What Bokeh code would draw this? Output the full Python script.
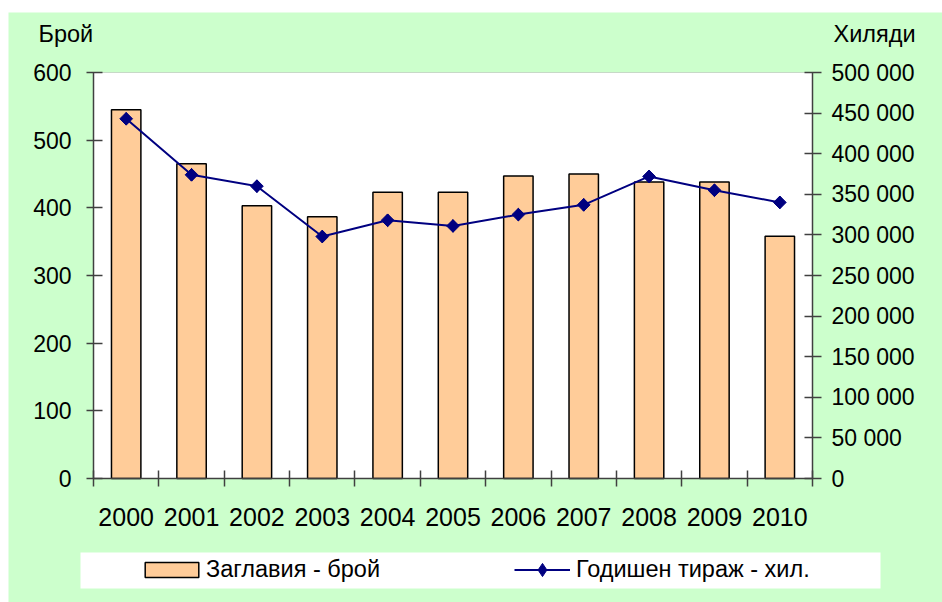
from bokeh.plotting import figure
from bokeh.models import (Range1d, LinearAxis, Legend, LegendItem, FixedTicker,
                          CustomJSTickFormatter, BoxAnnotation, Label)
from bokeh.embed import file_html
from bokeh.resources import INLINE

# ---- data ----
years = ["2000", "2001", "2002", "2003", "2004", "2005", "2006", "2007", "2008", "2009", "2010"]
titles_count = [545, 465, 403, 387, 423, 423, 447, 450, 438, 438, 358]
circulation = [443000, 374000, 360000, 298000, 318000, 311000, 325000, 337000, 372000, 355000, 340000]
left_ticks = [0, 100, 200, 300, 400, 500, 600]
right_ticks = [0, 50000, 100000, 150000, 200000, 250000, 300000, 350000, 400000, 450000, 500000]
bar_label = "Заглавия - брой"
line_label = "Годишен тираж - хил."
left_title = "Брой"
right_title = "Хиляди"

FONT = "Liberation Sans"
GREEN = "#CCFFCC"
AX = "#404040"
NAVY = "#000080"

# ---- layout (pixels, figure coordinates) ----
W, H = 934, 590
PL, PR, PT, PB = 85, 804, 60, 466          # plot-area edges inside the figure
Y_MAX_L, Y_MAX_R = 600, 500000

n = len(years)
xs = list(range(n))
boundaries = [i - 0.5 for i in range(n + 1)]
xu = (PR - PL) / n                            # px per category
x0 = -0.5 - PL / xu
x1 = n - 0.5 + (W - PR) / xu
yu = (PB - PT) / Y_MAX_L
y0 = -(H - PB) / yu
y1 = Y_MAX_L + PT / yu
k = Y_MAX_R / Y_MAX_L

p = figure(width=W, height=H, output_backend="svg", toolbar_location=None,
           x_range=Range1d(x0, x1), y_range=Range1d(y0, y1),
           min_border=0, min_border_left=0, min_border_right=0,
           min_border_top=0, min_border_bottom=0,
           background_fill_color=GREEN, border_fill_color=GREEN,
           outline_line_color=None)
p.margin = (12, 0, 0, 8)
p.extra_y_ranges = {"right": Range1d(y0 * k, y1 * k)}
p.grid.visible = False

# white plot area with grey border
p.add_layout(BoxAnnotation(left=-0.5, right=n - 0.5, bottom=0, top=Y_MAX_L,
                           fill_color="white", fill_alpha=1, line_color="#808080",
                           line_width=1, level="underlay"))

bars = p.vbar(x=xs, top=titles_count, width=0.45, fill_color="#FFCC99",
              line_color="black", line_width=1.5)
ln = p.line(x=xs, y=circulation, y_range_name="right", line_color=NAVY, line_width=2)
# diamond used for the legend (hidden under the rotated squares on the chart)
mk_d = p.scatter(x=xs, y=circulation, y_range_name="right", marker="diamond", size=12.5,
                 fill_color=NAVY, line_color=NAVY)
mk = p.scatter(x=xs, y=circulation, y_range_name="right", marker="square", angle=0.7853981634,
               size=9, fill_color=NAVY, line_color=NAVY)

# x axis
xa = p.xaxis[0]
xa.fixed_location = 0
xa.bounds = (-0.5, n - 0.5)
xa.ticker = FixedTicker(ticks=xs, minor_ticks=boundaries)
xa.major_label_overrides = {i: y for i, y in zip(xs, years)}
xa.major_tick_line_color = None
xa.major_tick_in = 0
xa.major_tick_out = 0
xa.minor_tick_in = 8
xa.minor_tick_out = 8
xa.minor_tick_line_color = AX
xa.minor_tick_line_width = 1.5
xa.axis_line_color = AX
xa.axis_line_width = 1.5
xa.major_label_text_font = FONT
xa.major_label_text_font_size = "25px"
xa.major_label_text_color = "black"
xa.major_label_standoff = 21

# left axis
ya = p.yaxis[0]
ya.fixed_location = -0.5
ya.bounds = (0, Y_MAX_L)
ya.ticker = FixedTicker(ticks=left_ticks)
ya.major_tick_in = 9
ya.major_tick_out = 7
ya.major_tick_line_color = AX
ya.major_tick_line_width = 1.5
ya.minor_tick_line_color = None
ya.axis_line_color = AX
ya.axis_line_width = 1.5
ya.major_label_text_font = FONT
ya.major_label_text_font_size = "23px"
ya.major_label_text_color = "black"
ya.major_label_standoff = 15

# right axis
ra = LinearAxis(y_range_name="right", ticker=FixedTicker(ticks=right_ticks),
                formatter=CustomJSTickFormatter(code='return tick.toFixed(0).replace(/\\B(?=(\\d{3})+(?!\\d))/g, " ");'))
ra.fixed_location = n - 0.5
ra.bounds = (0, Y_MAX_R)
ra.major_tick_in = 8
ra.major_tick_out = 9
ra.major_tick_line_color = AX
ra.major_tick_line_width = 1.5
ra.minor_tick_line_color = None
ra.axis_line_color = AX
ra.axis_line_width = 1.5
ra.major_label_text_font = FONT
ra.major_label_text_font_size = "23px"
ra.major_label_text_color = "black"
ra.major_label_standoff = 10
p.add_layout(ra, "right")

# axis titles (screen units measured from the frame's bottom-left)
p.add_layout(Label(x=30, y=H - 21, x_units="screen", y_units="screen", text=left_title,
                   text_font=FONT, text_font_size="23.5px", text_baseline="alphabetic",
                   text_color="black"))
p.add_layout(Label(x=825, y=H - 21, x_units="screen", y_units="screen", text=right_title,
                   text_font=FONT, text_font_size="23.5px", text_baseline="alphabetic",
                   text_color="black"))

# legend white box
p.add_layout(BoxAnnotation(left=72, right=872, bottom=14, top=50,
                           left_units="screen", right_units="screen",
                           bottom_units="screen", top_units="screen",
                           fill_color="white", fill_alpha=1, line_color=None, level="annotation"))

leg_style = dict(orientation="horizontal", padding=5, label_text_font=FONT,
                 label_text_font_size="23.5px", label_text_color="black",
                 background_fill_alpha=0, border_line_color=None, margin=0)
legend1 = Legend(items=[LegendItem(label=bar_label, renderers=[bars])],
                 location=(130, 19), glyph_width=67, glyph_height=19, label_standoff=1,
                 **leg_style)
legend2 = Legend(items=[LegendItem(label=line_label, renderers=[ln, mk_d])],
                 location=(506, 16), glyph_width=56, glyph_height=33, label_standoff=6,
                 **leg_style)
p.add_layout(legend1, "center")
p.add_layout(legend2, "center")

open("out.html", "w").write(file_html(p, INLINE))
